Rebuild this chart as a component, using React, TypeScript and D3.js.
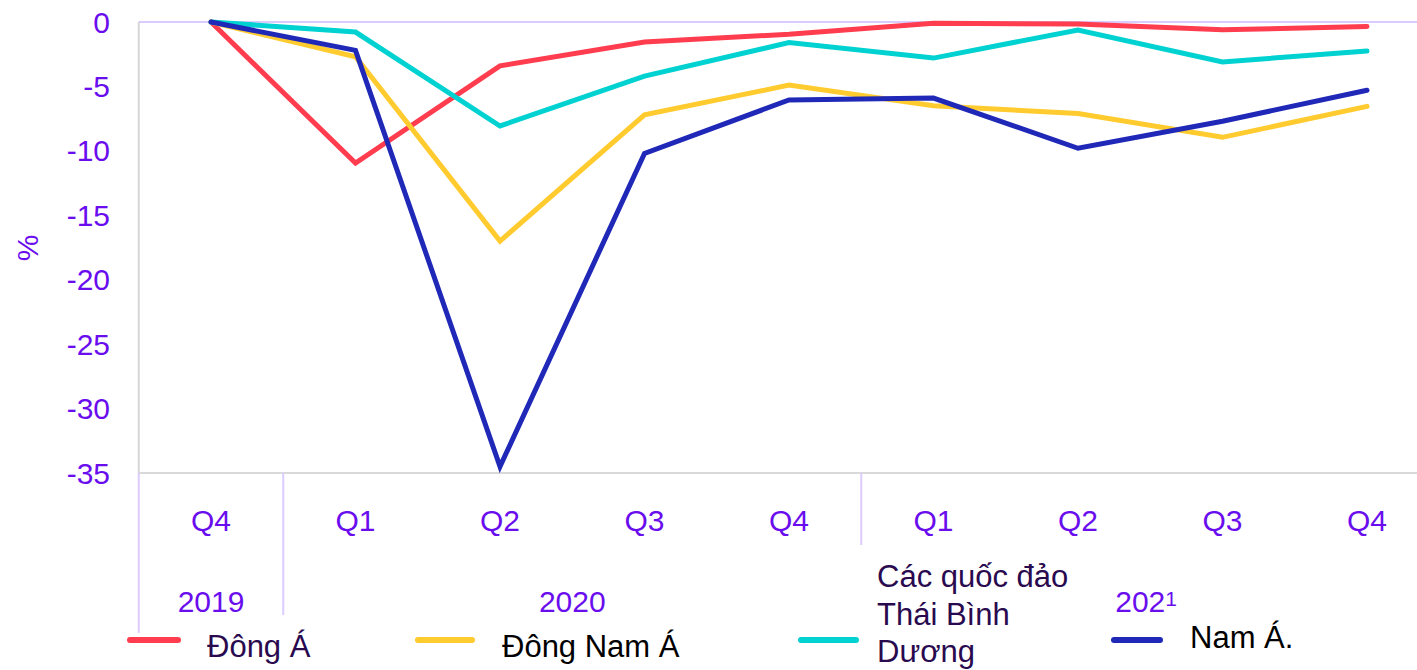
import * as d3 from 'd3';
import React from 'react';

// quarters along the x axis
const quarters = ['Q4', 'Q1', 'Q2', 'Q3', 'Q4', 'Q1', 'Q2', 'Q3', 'Q4'];
const years = [
  { label: '2019', from: 0, to: 0 },
  { label: '2020', from: 1, to: 4 },
  { label: '2021', from: 5, to: 8 },
];
const yTicks = [0, -5, -10, -15, -20, -25, -30, -35];

// % change per region
const dongA = [0, -10.95, -3.4, -1.55, -0.95, -0.1, -0.15, -0.6, -0.35];
const dongNamA = [0, -2.7, -17.0, -7.2, -4.9, -6.5, -7.1, -8.95, -6.55];
const quocDao = [0, -0.78, -8.07, -4.2, -1.6, -2.8, -0.62, -3.1, -2.25];
const namA = [0, -2.2, -34.5, -10.2, -6.05, -5.9, -9.8, -7.7, -5.3];

const series = [
  { name: ['Đông Á'], values: dongA, color: '#ff3d4f', text: '#2a0a4f' },
  { name: ['Đông Nam Á'], values: dongNamA, color: '#ffcb2f', text: '#000000' },
  { name: ['Các quốc đảo', 'Thái Bình', 'Dương'], values: quocDao, color: '#00d1d1', text: '#2a0a4f' },
  { name: ['Nam Á.'], values: namA, color: '#2028b8', text: '#000000' },
];

const W = 1417, H = 670;
const purple = '#6a0dee';
const font = '"Liberation Sans", Arial, sans-serif';

export default function App() {
  const x = d3.scalePoint<number>().domain(d3.range(quarters.length)).range([211, 1367]);
  const step = x.step();
  const y = d3.scaleLinear().domain([-35, 0]).range([473, 22]);
  const left = x(0)! - step / 2;

  const line = d3
    .line<number>()
    .x((d, i) => x(i)!)
    .y((d) => y(d));

  // legend layout (swatch start, text start)
  const legend = [
    { sx: 130, sw: 48, tx: 207, base: 657 },
    { sx: 418, sw: 54, tx: 502, base: 657 },
    { sx: 801, sw: 55, tx: 877, base: 587 },
    { sx: 1114, sw: 46, tx: 1190, base: 648 },
  ];

  return (
    <svg
      width={W}
      height={H}
      style={{ position: 'absolute', left: 0, top: 0, background: '#fff' }}
      fontFamily={font}
    >
      {/* gridline at 0 */}
      <line x1={left} x2={W} y1={y(0)} y2={y(0)} stroke="#dccbff" strokeWidth={2} />
      {/* y axis line */}
      <line x1={left} x2={left} y1={y(0)} y2={y(-35)} stroke="#d6d6d6" strokeWidth={2} />
      {/* x axis line */}
      <line x1={left} x2={W} y1={y(-35)} y2={y(-35)} stroke="#d9d9d9" strokeWidth={2} />

      {/* category separators */}
      <line x1={left} x2={left} y1={y(-35)} y2={633} stroke="#dccbff" strokeWidth={2} />
      <line x1={x(0)! + step / 2} x2={x(0)! + step / 2} y1={y(-35)} y2={615} stroke="#dccbff" strokeWidth={2} />
      <line x1={x(4)! + step / 2} x2={x(4)! + step / 2} y1={y(-35)} y2={545} stroke="#dccbff" strokeWidth={2} />

      {/* y tick labels */}
      {yTicks.map((t) => (
        <text key={t} x={110} y={y(t)} dy="0.35em" textAnchor="end" fontSize={30} fill={purple}>
          {t}
        </text>
      ))}
      <text
        transform={`translate(38,248) rotate(-90)`}
        textAnchor="middle"
        fontSize={30}
        fill={purple}
      >
        %
      </text>

      {/* quarter labels */}
      {quarters.map((q, i) => (
        <text key={i} x={x(i)} y={531} textAnchor="middle" fontSize={30} fill={purple}>
          {q}
        </text>
      ))}
      {/* year labels */}
      {years.map((yr) => {
        const cx = (x(yr.from)! + x(yr.to)!) / 2;
        if (yr.label === '2021') {
          return (
            <text key={yr.label} x={cx - 35} y={612} fontSize={30} fill={purple}>
              {yr.label.slice(0, 3)}
              <tspan fontSize={21} dy={-6}>
                {yr.label.slice(3)}
              </tspan>
            </text>
          );
        }
        return (
          <text key={yr.label} x={cx} y={612} textAnchor="middle" fontSize={30} fill={purple}>
            {yr.label}
          </text>
        );
      })}

      {/* series lines */}
      {series.map((s) => (
        <path
          key={s.name.join(' ')}
          d={line(s.values) ?? ''}
          fill="none"
          stroke={s.color}
          strokeWidth={5}
          strokeLinecap="round"
        />
      ))}

      {/* legend */}
      {series.map((s, i) => {
        const l = legend[i];
        return (
          <g key={'lg' + i}>
            <line
              x1={l.sx}
              x2={l.sx + l.sw}
              y1={640}
              y2={640}
              stroke={s.color}
              strokeWidth={6}
              strokeLinecap="round"
            />
            <text x={l.tx} y={l.base} fontSize={31} fill={s.text}>
              {s.name.map((n, j) => (
                <tspan key={j} x={l.tx} dy={j === 0 ? 0 : 37.5}>
                  {n}
                </tspan>
              ))}
            </text>
          </g>
        );
      })}
    </svg>
  );
}
